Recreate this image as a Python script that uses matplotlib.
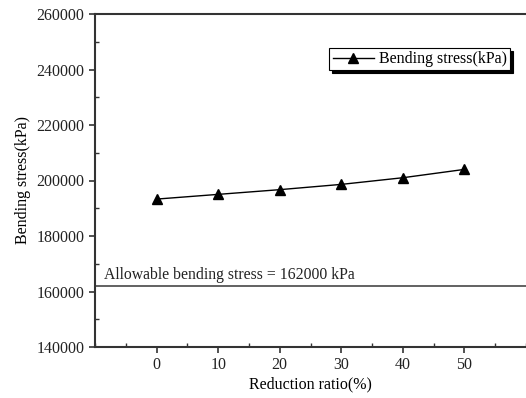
import numpy as np
import matplotlib.pyplot as plt
from matplotlib.ticker import MultipleLocator

plt.rcParams['font.family'] = ['Liberation Serif', 'DejaVu Serif']

ratio = [0, 10, 20, 30, 40, 50]
stress = [193300, 195000, 196700, 198600, 201000, 204000]
allowable = 162000
allow_label = "Allowable bending stress = 162000 kPa"

fig = plt.figure(figsize=(5.26, 3.98), dpi=100)
ax = fig.add_axes([95 / 526, 51 / 398, 431 / 526, 333 / 398])

ax.plot(ratio, stress, '-^', color='black', lw=1.0, markersize=6.5,
        label='Bending stress(kPa)')
ax.axhline(allowable, color='#555555', lw=1.3)
ax.text(-8.6, allowable + 2600, allow_label, fontsize=11.3, color='#222222')

ax.set_xlim(-10, 60)
ax.set_ylim(140000, 260000)
ax.xaxis.set_major_locator(MultipleLocator(10))
ax.xaxis.set_minor_locator(MultipleLocator(5))
ax.yaxis.set_major_locator(MultipleLocator(20000))
ax.yaxis.set_minor_locator(MultipleLocator(10000))
ax.set_xticks([0, 10, 20, 30, 40, 50])

ax.spines['right'].set_visible(False)
for s in ['left', 'bottom', 'top']:
    ax.spines[s].set_linewidth(1.5)
    ax.spines[s].set_color('#333333')

ax.tick_params(which='major', direction='out', length=4, width=1.2,
               labelsize=11.5, colors='#333333', labelcolor='#222222')
ax.tick_params(which='minor', direction='in', length=3, width=1.0,
               colors='#333333')
ax.tick_params(top=False, right=False, which='both')

ax.set_xlabel('Reduction ratio(%)', fontsize=11.5, labelpad=2)
ax.set_ylabel('Bending stress(kPa)', fontsize=11.5, labelpad=4)

leg = ax.legend(loc='upper right', bbox_to_anchor=(0.963, 0.898),
                borderaxespad=0, fancybox=False, edgecolor='black',
                framealpha=1, fontsize=11.5, handlelength=2.6,
                borderpad=0.2, handletextpad=0.3,
                shadow={'color': 'black', 'alpha': 1})
leg.get_frame().set_linewidth(0.8)

fig.savefig('out.png', dpi=100)
